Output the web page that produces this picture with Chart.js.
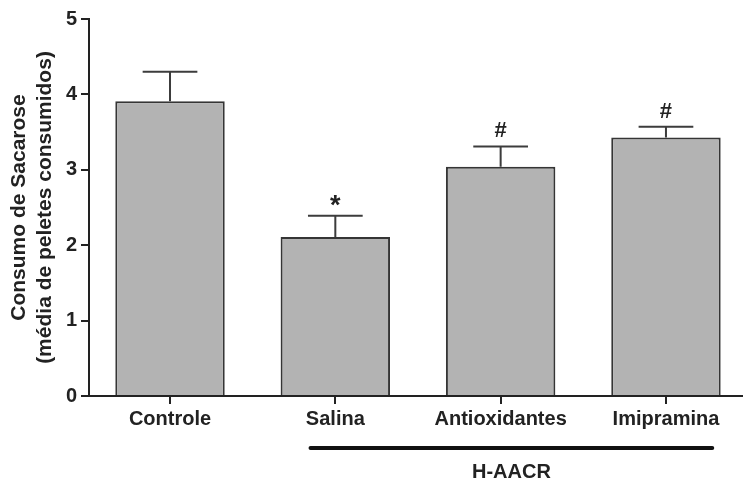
<!DOCTYPE html>
<html>
<head>
<meta charset="utf-8">
<script src="https://cdn.jsdelivr.net/npm/chart.js@4.4.1/dist/chart.umd.min.js"></script>
<style>
  html, body { margin: 0; padding: 0; background: #fff; }
  #wrap { width: 743px; height: 482px; }
</style>
</head>
<body>
<div id="wrap"><canvas id="c" width="743" height="482"></canvas></div>
<script>
// Groups, means and SEM of sucrose consumption
const categories = ['Controle', 'Salina', 'Antioxidantes', 'Imipramina'];
const means = [3.91, 2.11, 3.04, 3.43];
const sem = [0.39, 0.28, 0.27, 0.14];
const markers = ['', '*', '#', '#'];
const yTicks = [0, 1, 2, 3, 4, 5];
const groupLabel = 'H-AACR';
const groupFrom = 0.85;   // bracket start (x value)
const groupTo = 3.28;     // bracket end (x value)

const FONT = "'Liberation Sans', Arial, sans-serif";
const INK = '#222';

// error bars (upward), significance markers and the group bracket
const extras = {
  id: 'extras',
  afterDatasetsDraw(chart) {
    const { ctx, scales: { y } } = chart;
    const meta = chart.getDatasetMeta(0);
    ctx.save();
    meta.data.forEach((bar, i) => {
      const cx = bar.x;
      const top = y.getPixelForValue(means[i]);
      const errTop = y.getPixelForValue(means[i] + sem[i]);
      const half = bar.width / 4;
      ctx.strokeStyle = '#3c3c3c';
      ctx.lineWidth = 2;
      ctx.beginPath();
      ctx.moveTo(cx, top);
      ctx.lineTo(cx, errTop);
      ctx.moveTo(cx - half, errTop);
      ctx.lineTo(cx + half, errTop);
      ctx.stroke();
      if (markers[i]) {
        const star = markers[i] === '*';
        ctx.fillStyle = INK;
        ctx.font = 'bold ' + (star ? 27 : 22) + 'px ' + FONT;
        ctx.textAlign = 'center';
        ctx.textBaseline = 'alphabetic';
        ctx.fillText(markers[i], cx, star ? errTop - 2 : errTop - 9);
      }
    });
    ctx.restore();
  },
  afterDraw(chart) {
    const { ctx, chartArea, scales: { x } } = chart;
    const x0 = x.getPixelForValue(groupFrom);
    const x1 = x.getPixelForValue(groupTo);
    ctx.save();
    ctx.strokeStyle = '#111';
    ctx.lineWidth = 4;
    ctx.lineCap = 'round';
    ctx.beginPath();
    ctx.moveTo(x0, chartArea.bottom + 52);
    ctx.lineTo(x1, chartArea.bottom + 52);
    ctx.stroke();
    ctx.fillStyle = INK;
    ctx.font = 'bold 20px ' + FONT;
    ctx.textAlign = 'center';
    ctx.textBaseline = 'middle';
    ctx.fillText(groupLabel, (x0 + x1) / 2, chartArea.bottom + 76);
    ctx.restore();
  }
};

new Chart(document.getElementById('c'), {
  type: 'bar',
  data: {
    datasets: [{
      data: means.map((v, i) => ({ x: i, y: v })),
      backgroundColor: '#b3b3b3',
      borderColor: '#353535',
      borderWidth: 2,
      categoryPercentage: 1,
      barPercentage: 0.662
    }]
  },
  options: {
    responsive: false,
    animation: false,
    layout: { padding: { top: 19, right: 0, left: 0, bottom: 0 } },
    plugins: { legend: { display: false }, tooltip: { enabled: false } },
    scales: {
      x: {
        type: 'linear',
        offset: false,
        min: -0.49,
        max: 3.466,
        afterBuildTicks(scale) {
          scale.ticks = categories.map((_, i) => ({ value: i }));
        },
        afterFit(scale) { scale.height = 86; },
        grid: { offset: false, drawOnChartArea: false, drawTicks: true, tickLength: 8, color: INK, lineWidth: 2 },
        border: { display: true, color: INK, width: 2 },
        ticks: {
          autoSkip: false,
          maxRotation: 0,
          padding: 3,
          color: INK,
          font: { family: FONT, size: 20, weight: 'bold' },
          callback: (v) => categories[v] ?? ''
        }
      },
      y: {
        min: 0,
        max: 5,
        afterBuildTicks(scale) {
          scale.ticks = yTicks.map(v => ({ value: v }));
        },
        afterFit(scale) { scale.width = 89; },
        grid: { drawOnChartArea: false, drawTicks: true, tickLength: 8, color: INK, lineWidth: 2 },
        border: { display: true, color: INK, width: 2 },
        ticks: {
          padding: 4,
          color: INK,
          font: { family: FONT, size: 20, weight: 'bold' }
        },
        title: {
          display: true,
          text: ['Consumo de Sacarose', '(média de peletes consumidos)'],
          color: INK,
          font: { family: FONT, size: 21, weight: 'bold', lineHeight: 1.2 },
          padding: { top: 7, bottom: 0 }
        }
      }
    }
  },
  plugins: [extras]
});
</script>
</body>
</html>
